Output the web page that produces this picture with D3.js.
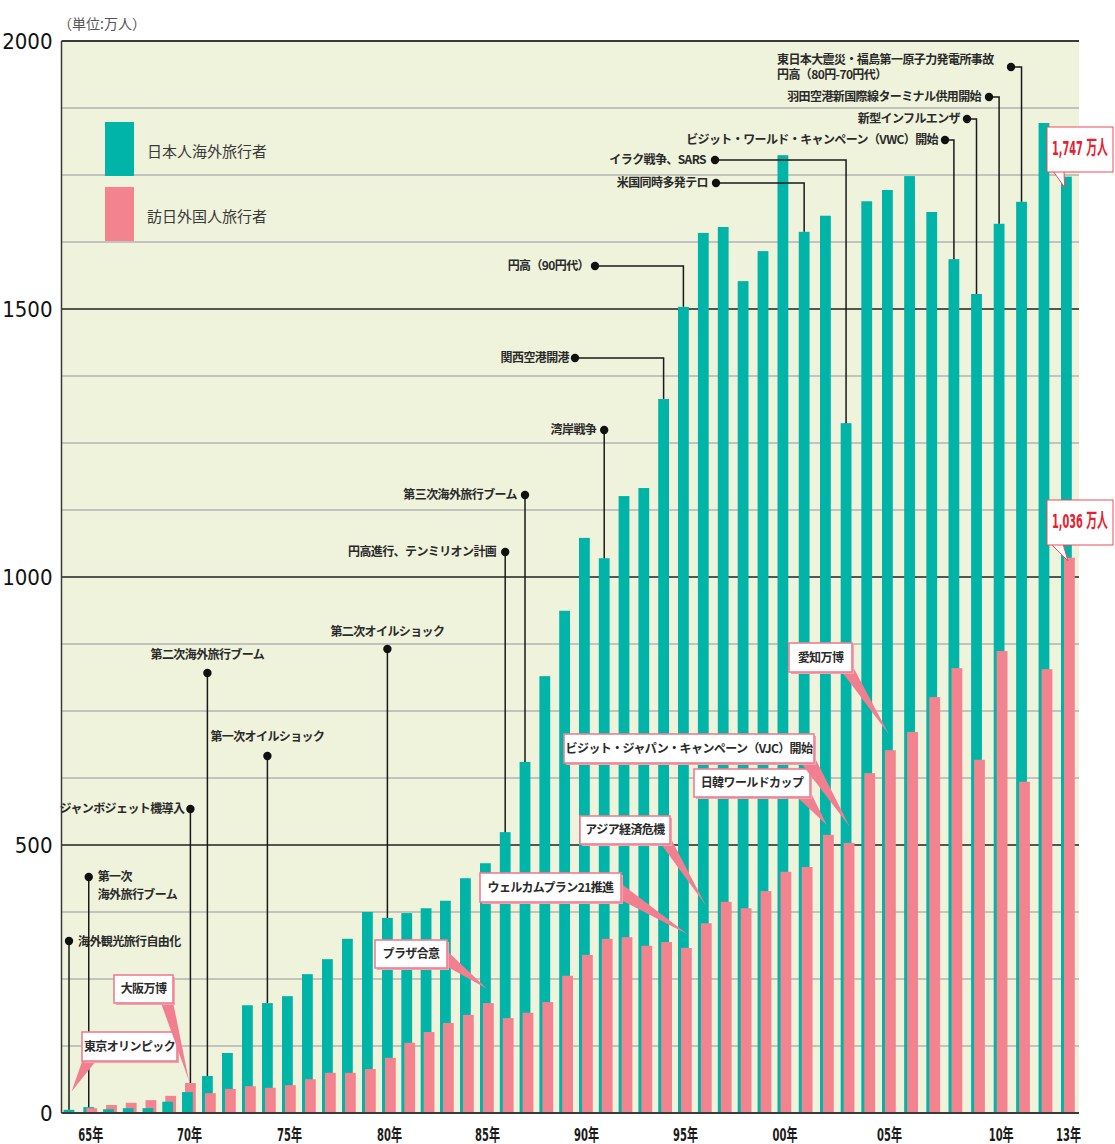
<!DOCTYPE html>
<html>
<head>
<meta charset="utf-8">
<script src="https://cdn.jsdelivr.net/npm/d3@7"></script>
<style>
body { margin: 0; background: #fff; }
text { font-family: "Noto Sans CJK JP", "Noto Sans", sans-serif; }
.num { font-family: "Liberation Sans Narrow", "DejaVu Sans Condensed", "Noto Sans CJK JP", sans-serif; }
</style>
</head>
<body>
<svg id="chart"></svg>
<script>
// 年（1964〜2013）
var years = [1964,1965,1966,1967,1968,1969,1970,1971,1972,1973,
             1974,1975,1976,1977,1978,1979,1980,1981,1982,1983,
             1984,1985,1986,1987,1988,1989,1990,1991,1992,1993,
             1994,1995,1996,1997,1998,1999,2000,2001,2002,2003,
             2004,2005,2006,2007,2008,2009,2010,2011,2012,2013];

// 日本人海外旅行者（万人）
var outbound = [6,11,7,9,9,21,39,69,112,201,
                205,218,259,287,325,375,364,373,382,396,
                438,466,524,655,815,937,1073,1035,1151,1166,
                1332,1504,1642,1653,1552,1608,1787,1644,1674,1287,
                1701,1722,1748,1681,1593,1528,1659,1700,1847,1747];

// 訪日外国人旅行者（万人）
var inbound = [0,9,15,19,24,32,56,37,45,50,
               47,52,63,75,75,82,103,131,151,168,
               183,205,177,187,207,256,295,325,328,312,
               319,308,354,394,382,414,450,459,519,504,
               634,677,711,776,830,659,862,618,828,1036];

var yTickValues = [0, 500, 1000, 1500, 2000];
var xTickYears = [1965,1970,1975,1980,1985,1990,1995,2000,2005,2010,2013];
var xTickLabels = ["65年","70年","75年","80年","85年","90年","95年","00年","05年","10年","13年"];
var seriesNames = ["日本人海外旅行者", "訪日外国人旅行者"];

var teal = "#00b5a7",
    pink = "#f3848f",
    cream = "#eff3dc";

var width = 1115, height = 1144;
var plot = { left: 61.5, right: 1079, top: 41, bottom: 1113 };
var barW = 10.8;

// the printed chart is not evenly spaced, so the year axis is piecewise
var x = d3.scaleLinear()
    .domain([1964,1970,1975,1980,1983,1985,1990,1995,2000,2002,2005,2008,2010,2013])
    .range([70.6,189,289,389,447,487,586,685,784.5,827,889,955.5,1000.7,1068]);

var y = d3.scaleLinear()
    .domain([0, 2000])
    .range([plot.bottom, plot.top]);

var svg = d3.select("#chart")
    .attr("width", width)
    .attr("height", height);

svg.append("rect")
    .attr("x", plot.left)
    .attr("y", plot.top)
    .attr("width", plot.right - plot.left)
    .attr("height", plot.bottom - plot.top)
    .attr("fill", cream);

// grid
var gridVals = d3.range(125, 2000, 125);
svg.append("g").selectAll("line")
    .data(gridVals)
    .enter().append("line")
    .attr("x1", plot.left)
    .attr("x2", plot.right)
    .attr("y1", function(d) { return y(d); })
    .attr("y2", function(d) { return y(d); })
    .attr("stroke", function(d) { return d % 500 == 0 ? "#222" : "#b3b3b3"; })
    .attr("stroke-width", function(d) { return d % 500 == 0 ? 1.3 : 1.4; });

// bars: the shorter bar of each year sits in front
var rows = years.map(function(yr, i) {
    return { year: yr, out: outbound[i], inb: inbound[i] };
});

svg.append("g").selectAll("g")
    .data(rows)
    .enter().append("g")
    .each(function(d) {
        var g = d3.select(this);
        var parts = [
            { v: d.out, dx: -7, c: teal },
            { v: d.inb, dx: -4, c: pink }
        ];
        parts.sort(function(a, b) { return b.v - a.v; });
        parts.forEach(function(p) {
            g.append("rect")
                .attr("x", x(d.year) + p.dx)
                .attr("y", y(p.v))
                .attr("width", barW)
                .attr("height", y(0) - y(p.v))
                .attr("fill", p.c);
        });
    });

function topOf(yr) {
    var i = years.indexOf(yr);
    if (outbound[i] >= inbound[i]) return { x: x(yr) - 7 + barW / 2, y: y(outbound[i]) };
    return { x: x(yr) - 4 + barW / 2, y: y(inbound[i]) };
}

// events with black leader lines
// vertical ones: dot right above the bar; elbow ones: dot to the left
var events = [
    { text: ["海外観光旅行自由化"], year: 1964, dy: 941, tdx: 9, ty: [942], anchor: "start" },
    { text: ["第一次", "海外旅行ブーム"], year: 1965, dy: 877, tdx: 9, ty: [877, 895], anchor: "start" },
    { text: ["ジャンボジェット機導入"], year: 1970, dy: 809, tdx: -6, ty: [809], anchor: "end" },
    { text: ["第二次海外旅行ブーム"], year: 1971, dy: 673, tdx: 0, ty: [655], anchor: "middle" },
    { text: ["第一次オイルショック"], year: 1974, dy: 756, tdx: 0, ty: [737], anchor: "middle" },
    { text: ["第二次オイルショック"], year: 1980, dy: 649, tdx: 0, ty: [632], anchor: "middle" },
    { text: ["円高進行、テンミリオン計画"], year: 1986, dy: 552, tdx: -9, ty: [552], anchor: "end" },
    { text: ["第三次海外旅行ブーム"], year: 1987, dy: 495, tdx: -8, ty: [495], anchor: "end" },
    { text: ["湾岸戦争"], year: 1991, dy: 430, tdx: -8, ty: [430], anchor: "end" },
    { text: ["関西空港開港"], year: 1994, dot: [575, 358], tx: 569, ty: [358], anchor: "end" },
    { text: ["円高（90円代）"], year: 1995, dot: [595, 266], tx: 589, ty: [266], anchor: "end" },
    { text: ["米国同時多発テロ"], year: 2001, dot: [716, 183], tx: 708, ty: [183], anchor: "end" },
    { text: ["イラク戦争、SARS"], year: 2003, dot: [715, 160], tx: 706, ty: [160], anchor: "end" },
    { text: ["ビジット・ワールド・キャンペーン（VWC）開始"], year: 2008, dot: [945, 140], tx: 938, ty: [140], anchor: "end" },
    { text: ["新型インフルエンザ"], year: 2009, dot: [967, 119], tx: 960, ty: [119], anchor: "end" },
    { text: ["羽田空港新国際線ターミナル供用開始"], year: 2010, dot: [989, 97], tx: 981, ty: [97], anchor: "end" },
    { text: ["東日本大震災・福島第一原子力発電所事故", "円高（80円-70円代）"], year: 2011, dot: [1011, 67], tx: 777, ty: [60, 75], anchor: "start" }
];

var evG = svg.append("g");
events.forEach(function(e) {
    var t = topOf(e.year);
    var dx, dy, path, tx;
    if (e.dot) {
        dx = e.dot[0]; dy = e.dot[1];
        path = "M" + dx + "," + dy + "H" + t.x + "V" + t.y;
        tx = e.tx;
    } else {
        dx = t.x; dy = e.dy;
        path = "M" + dx + "," + dy + "V" + t.y;
        tx = dx + e.tdx;
    }
    evG.append("path")
        .attr("d", path)
        .attr("fill", "none")
        .attr("stroke", "#1a1a1a")
        .attr("stroke-width", 1.5);
    evG.append("circle")
        .attr("cx", dx)
        .attr("cy", dy)
        .attr("r", 4.2)
        .attr("fill", "#111");
    e.text.forEach(function(s, k) {
        evG.append("text")
            .attr("x", tx)
            .attr("y", e.ty[k])
            .attr("dy", "0.36em")
            .attr("text-anchor", e.anchor)
            .style("font-size", "12px")
            .style("font-weight", "bold")
            .style("letter-spacing", "-0.6px")
            .attr("fill", "#2a2a2a")
            .text(s);
    });
});

// pink callouts
var callouts = [
    { text: "東京オリンピック", box: [82, 1032, 95, 29], base: [[85, 1053], [96, 1061]], tip: [1964.05, 40] },
    { text: "大阪万博", box: [114, 975, 59, 28], base: [[161, 1003], [172, 997]], tip: [1970, 60] },
    { text: "プラザ合意", box: [375, 940, 72, 28], base: [[446, 950], [446, 966]], tip: [1985, 232] },
    { text: "ウェルカムプラン21推進", box: [480, 873, 141, 29], base: [[619, 882], [619, 899]], tip: [1995.15, 333] },
    { text: "アジア経済危機", box: [580, 816, 90, 28], base: [[661, 844], [669, 835]], tip: [1996.05, 387] },
    { text: "日韓ワールドカップ", box: [694, 769, 116, 28], base: [[797, 797], [809, 789]], tip: [2002, 537] },
    { text: "ビジット・ジャパン・キャンペーン（VJC）開始", box: [564, 734, 250, 29], base: [[801, 763], [813, 754]], tip: [2003.1, 534] },
    { text: "愛知万博", box: [789, 643, 63, 29], base: [[842, 672], [851, 663]], tip: [2005, 706] }
];

var coG = svg.append("g");
callouts.forEach(function(c) {
    var tip = [x(c.tip[0]), y(c.tip[1])];
    coG.append("path")
        .attr("d", "M" + c.base[0] + "L" + tip + "L" + c.base[1] + "Z")
        .attr("fill", "#f17f90");
    coG.append("rect")
        .attr("x", c.box[0] + 2)
        .attr("y", c.box[1] + 2)
        .attr("width", c.box[2])
        .attr("height", c.box[3])
        .attr("fill", "#f4a2ae");
    coG.append("rect")
        .attr("x", c.box[0])
        .attr("y", c.box[1])
        .attr("width", c.box[2])
        .attr("height", c.box[3])
        .attr("fill", "#fff")
        .attr("stroke", "#ee7f91")
        .attr("stroke-width", 1.6);
    coG.append("text")
        .attr("x", c.box[0] + c.box[2] / 2)
        .attr("y", c.box[1] + c.box[3] / 2)
        .attr("dy", "0.36em")
        .attr("text-anchor", "middle")
        .style("font-size", "12px")
        .style("font-weight", "bold")
        .style("letter-spacing", "-0.6px")
        .attr("fill", "#2a2a2a")
        .text(c.text);
});

// latest values
var last = years.length - 1;
var valueTags = [
    { v: outbound[last], box: [1047, 127, 66, 45], base: [[1053, 171], [1064, 171]], tip: [2012.85, outbound[last] - 20] },
    { v: inbound[last], box: [1047, 500, 66, 45], base: [[1051, 544], [1063, 544]], tip: [2013, inbound[last] - 6] }
];
valueTags.forEach(function(t) {
    var tip = [x(t.tip[0]), y(t.tip[1])];
    coG.append("path")
        .attr("d", "M" + t.base[0] + "L" + tip + "L" + t.base[1] + "Z")
        .attr("fill", "#fff")
        .attr("stroke", "#ef4a5a")
        .attr("stroke-width", 1);
    coG.append("rect")
        .attr("x", t.box[0])
        .attr("y", t.box[1])
        .attr("width", t.box[2])
        .attr("height", t.box[3])
        .attr("fill", "#fff")
        .attr("stroke", "#ef4a5a")
        .attr("stroke-width", 1);
    coG.append("path")
        .attr("d", "M" + [t.base[0][0] + 1, t.base[0][1] - 1] + "L" + [t.base[1][0] - 1, t.base[1][1] - 1])
        .attr("stroke", "#fff")
        .attr("stroke-width", 2);
    // squeeze the label horizontally like the printed condensed type
    var lbl = coG.append("text")
        .classed("num", true)
        .attr("x", 0)
        .attr("y", 0)
        .attr("dy", "0.36em")
        .style("font-size", "20px")
        .style("font-weight", "bold")
        .attr("fill", "#e8202e")
        .text(d3.format(",")(t.v) + " 万人");
    var w = lbl.node().getComputedTextLength();
    var k = 56 / w;
    lbl.attr("transform", "translate(" + (t.box[0] + 5) + "," + (t.box[1] + t.box[3] / 2 - 2) + ") scale(" + k + ",1)");
});

// frame
svg.append("line")
    .attr("x1", plot.left).attr("x2", plot.right)
    .attr("y1", plot.top).attr("y2", plot.top)
    .attr("stroke", "#3a3a3a").attr("stroke-width", 2);
svg.append("line")
    .attr("x1", plot.left).attr("x2", plot.left)
    .attr("y1", plot.top).attr("y2", plot.bottom)
    .attr("stroke", "#3a3a3a").attr("stroke-width", 1.5);
svg.append("line")
    .attr("x1", plot.left).attr("x2", plot.right)
    .attr("y1", plot.bottom).attr("y2", plot.bottom)
    .attr("stroke", "#3a3a3a").attr("stroke-width", 2.2);

// axes
var yAxis = d3.axisLeft(y)
    .tickValues(yTickValues)
    .tickFormat(d3.format("d"))
    .tickSize(0)
    .tickPadding(9);
var gy = svg.append("g")
    .attr("transform", "translate(" + plot.left + ",0)")
    .call(yAxis);
gy.select(".domain").remove();
gy.selectAll("text")
    .classed("num", true)
    .style("font-size", "22px")
    .attr("fill", "#111");

var xAxis = d3.axisBottom(x)
    .tickValues(xTickYears)
    .tickFormat(function(d, i) { return xTickLabels[i]; })
    .tickSize(0);
var gx = svg.append("g")
    .attr("transform", "translate(0," + plot.bottom + ")")
    .call(xAxis);
gx.select(".domain").remove();
gx.selectAll("text")
    .classed("num", true)
    .attr("y", 22)
    .attr("dy", "0.36em")
    .attr("textLength", 25)
    .attr("lengthAdjust", "spacingAndGlyphs")
    .style("font-size", "17px")
    .style("font-weight", "bold")
    .attr("fill", "#1a1a1a");

// unit
svg.append("text")
    .attr("x", 58)
    .attr("y", 24)
    .attr("dy", "0.36em")
    .style("font-size", "14px")
    .attr("fill", "#555")
    .text("（単位:万人）");

// legend
var legend = svg.append("g").selectAll("g")
    .data(seriesNames)
    .enter().append("g")
    .attr("transform", function(d, i) { return "translate(105," + (122 + i * 65) + ")"; });
legend.append("rect")
    .attr("width", 29)
    .attr("height", 54)
    .attr("fill", function(d, i) { return i == 0 ? teal : pink; });
legend.append("text")
    .attr("x", 42)
    .attr("y", 30)
    .attr("dy", "0.36em")
    .style("font-size", "15px")
    .attr("fill", "#3a3a3a")
    .text(function(d) { return d; });
</script>
</body>
</html>
